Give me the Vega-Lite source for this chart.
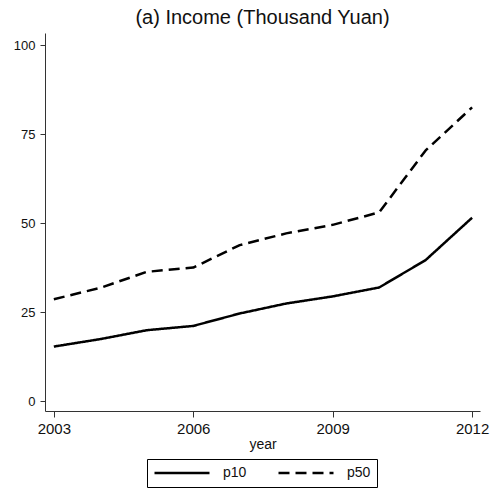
{
  "$schema": "https://vega.github.io/schema/vega-lite/v6.json",
  "width": 435,
  "height": 378,
  "autosize": {"type": "none"},
  "padding": {"left": 45, "top": 33, "right": 11, "bottom": 81},
  "background": "white",
  "config": {
    "font": "Liberation Sans",
    "view": {"stroke": null},
    "axis": {"grid": false, "domainColor": "#333", "tickColor": "#333", "labelColor": "#111", "titleColor": "#111", "labelFont": "Liberation Sans", "titleFont": "Liberation Sans", "titleFontWeight": "normal"}
  },
  "title": {"text": "(a) Income (Thousand Yuan)", "font": "Liberation Sans", "fontSize": 20, "fontWeight": "normal", "color": "#111", "anchor": "middle", "offset": 5, "frame": "group"},
  "data": {"values": [
    {"year": 2003, "series": "p10", "value": 15.3},
    {"year": 2004, "series": "p10", "value": 17.4},
    {"year": 2005, "series": "p10", "value": 19.9},
    {"year": 2006, "series": "p10", "value": 21.1},
    {"year": 2007, "series": "p10", "value": 24.6},
    {"year": 2008, "series": "p10", "value": 27.4},
    {"year": 2009, "series": "p10", "value": 29.4},
    {"year": 2010, "series": "p10", "value": 31.9},
    {"year": 2011, "series": "p10", "value": 39.6},
    {"year": 2012, "series": "p10", "value": 51.5},
    {"year": 2003, "series": "p50", "value": 28.6},
    {"year": 2004, "series": "p50", "value": 31.8},
    {"year": 2005, "series": "p50", "value": 36.3},
    {"year": 2006, "series": "p50", "value": 37.5},
    {"year": 2007, "series": "p50", "value": 43.8},
    {"year": 2008, "series": "p50", "value": 47.1},
    {"year": 2009, "series": "p50", "value": 49.5},
    {"year": 2010, "series": "p50", "value": 53.0},
    {"year": 2011, "series": "p50", "value": 70.4},
    {"year": 2012, "series": "p50", "value": 82.5}
  ]},
  "mark": {"type": "line", "color": "black", "strokeWidth": 2.5, "strokeJoin": "round"},
  "encoding": {
    "x": {"field": "year", "type": "quantitative", "title": "year",
      "scale": {"domain": [2002.81, 2012.17], "nice": false, "zero": false},
      "axis": {"values": [2003, 2006, 2009, 2012], "format": "d", "labelFontSize": 15, "titleFontSize": 14, "tickSize": 6, "labelPadding": 4, "titlePadding": 1, "labelFlush": false}},
    "y": {"field": "value", "type": "quantitative", "title": null,
      "scale": {"domain": [-2.8, 103.4], "nice": false, "zero": false},
      "axis": {"values": [0, 25, 50, 75, 100], "labelFontSize": 13, "tickSize": 5, "labelPadding": 5, "labelFlush": false}},
    "strokeDash": {"field": "series", "type": "nominal",
      "scale": {"domain": ["p10", "p50"], "range": [[1, 0], [11, 6]]},
      "legend": {"title": null, "orient": "none", "legendX": 102, "legendY": 426, "direction": "horizontal",
        "strokeColor": "black", "fillColor": "white", "padding": 6, "symbolType": "stroke", "symbolSize": 3025, "clipHeight": 16,
        "symbolStrokeWidth": 2.5, "symbolStrokeColor": "black", "labelFontSize": 14, "labelFont": "Liberation Sans", "labelColor": "#111", "labelOffset": 12, "columnPadding": 30, "cornerRadius": 0}}
  }
}
